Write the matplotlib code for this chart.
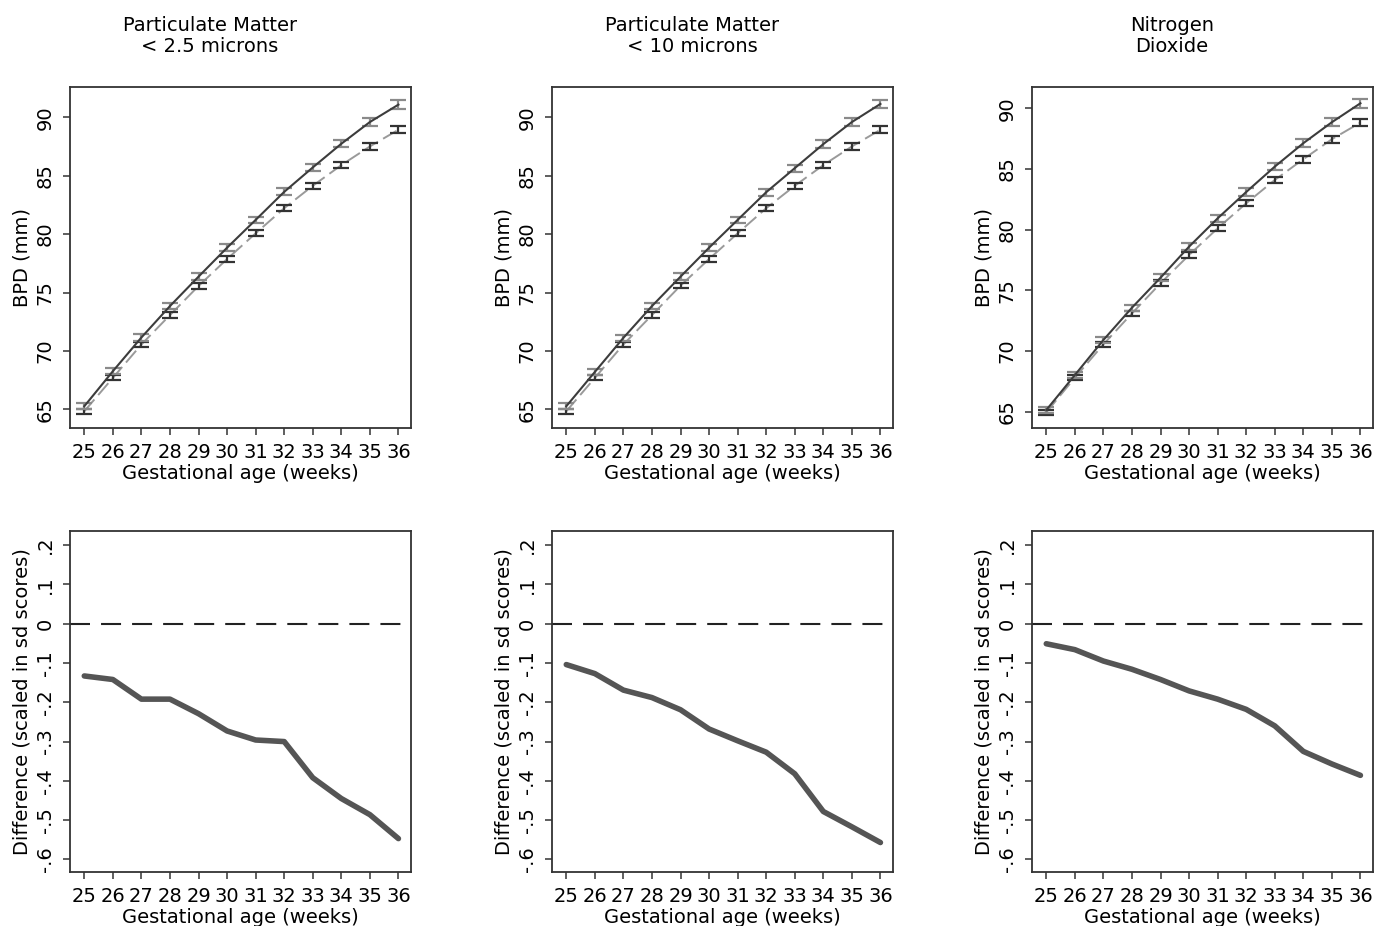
import numpy as np
import matplotlib.pyplot as plt

plt.rcParams["font.family"] = ["DejaVu Sans"]

weeks = [25, 26, 27, 28, 29, 30, 31, 32, 33, 34, 35, 36]

titles = ["Particulate Matter\n< 2.5 microns",
          "Particulate Matter\n< 10 microns",
          "Nitrogen\nDioxide"]

# BPD means, upper (solid) and lower (dashed) series per pollutant
bpd_upper = [
    [65.26, 68.26, 71.15, 73.84, 76.36, 78.84, 81.22, 83.62, 85.71, 87.74, 89.60, 91.09],
    [65.26, 68.20, 71.12, 73.84, 76.36, 78.84, 81.22, 83.59, 85.65, 87.71, 89.60, 91.15],
    [65.14, 68.02, 70.91, 73.57, 76.04, 78.60, 80.93, 83.10, 85.19, 87.12, 88.85, 90.41],
]
bpd_lower = [
    [64.83, 67.69, 70.55, 73.07, 75.56, 77.87, 80.07, 82.22, 84.14, 85.91, 87.51, 88.94],
    [64.83, 67.69, 70.55, 73.07, 75.59, 77.87, 80.07, 82.22, 84.14, 85.91, 87.51, 88.94],
    [64.95, 67.80, 70.55, 73.10, 75.58, 77.91, 80.11, 82.17, 84.09, 85.80, 87.45, 88.82],
]
# half widths of the confidence intervals
ci_upper = [0.25, 0.25, 0.26, 0.26, 0.27, 0.28, 0.29, 0.30, 0.31, 0.32, 0.34, 0.36]
ci_lower = [0.22, 0.22, 0.23, 0.23, 0.24, 0.24, 0.25, 0.26, 0.27, 0.28, 0.30, 0.32]

# difference in sd scores
diff = [
    [-0.133, -0.142, -0.192, -0.192, -0.229, -0.273, -0.296, -0.300, -0.392, -0.445, -0.486, -0.547],
    [-0.104, -0.127, -0.169, -0.188, -0.219, -0.268, -0.298, -0.327, -0.382, -0.478, -0.517, -0.557],
    [-0.051, -0.066, -0.095, -0.116, -0.142, -0.171, -0.192, -0.218, -0.260, -0.325, -0.357, -0.386],
]

bpd_ticks = [65, 70, 75, 80, 85, 90]
diff_ticks = [-0.6, -0.5, -0.4, -0.3, -0.2, -0.1, 0, 0.1, 0.2]
diff_labels = ["-.6", "-.5", "-.4", "-.3", "-.2", "-.1", "0", ".1", ".2"]

W, H = 1375, 926
fig = plt.figure(figsize=(W / 100, H / 100), dpi=100)

col_left = [70, 552, 1032]
ax_w = 341
top_row = (87, 428)
bot_row = (531, 872)
top_ylims = [(63.4, 92.6), (63.4, 92.6), (63.66, 91.75)]

EDGE = "#333333"
FS = 14


def make_ax(x0, row):
    y0, y1 = row
    return fig.add_axes([x0 / W, 1 - y1 / H, ax_w / W, (y1 - y0) / H])


def style(ax):
    for s in ax.spines.values():
        s.set_color(EDGE)
        s.set_linewidth(1.3)
    ax.tick_params(direction="out", length=5, width=1.1, color=EDGE,
                   labelsize=FS, pad=6)
    ax.set_xticks(weeks)
    ax.set_xlim(24.5, 36.44)
    for lab in ax.get_yticklabels():
        lab.set_rotation(90)
        lab.set_va("center")
    ax.set_xlabel("Gestational age (weeks)", fontsize=FS, labelpad=1)


for i in range(3):
    # top: BPD curves
    ax = make_ax(col_left[i], top_row)
    ax.plot(weeks, bpd_lower[i], color="#9a9a9a", lw=1.4, dashes=(8, 3), zorder=2)
    ax.errorbar(weeks, bpd_lower[i], yerr=ci_lower, fmt="none", ecolor="#333333",
                elinewidth=1.6, capsize=5.5, capthick=1.6, zorder=3)
    ax.plot(weeks, bpd_upper[i], color="#3c3c3c", lw=1.5, zorder=4)
    ax.errorbar(weeks, bpd_upper[i], yerr=ci_upper, fmt="none", ecolor="#8a8a8a",
                elinewidth=1.6, capsize=5.5, capthick=1.6, zorder=3)
    ax.set_ylim(*top_ylims[i])
    ax.set_yticks(bpd_ticks)
    ax.set_yticklabels([str(t) for t in bpd_ticks])
    ax.set_ylabel("BPD (mm)", fontsize=FS, labelpad=3)
    style(ax)

    fig.text((col_left[i] + ax_w / 2 - 30.5) / W, 1 - 36 / H, titles[i],
             ha="center", va="center", fontsize=FS, linespacing=1.08)

    # bottom: difference curves
    ax = make_ax(col_left[i], bot_row)
    ax.plot([24.5, 36.44], [0, 0], color="#222222", lw=1.5, dashes=(9.6, 5.3))
    ax.plot(weeks, diff[i], color="#555555", lw=4, solid_capstyle="round")
    ax.set_ylim(-0.632, 0.236)
    ax.set_yticks(diff_ticks)
    ax.set_yticklabels(diff_labels)
    ax.set_ylabel("Difference (scaled in sd scores)", fontsize=FS, labelpad=3)
    style(ax)

fig.savefig("out.png", dpi=100)
